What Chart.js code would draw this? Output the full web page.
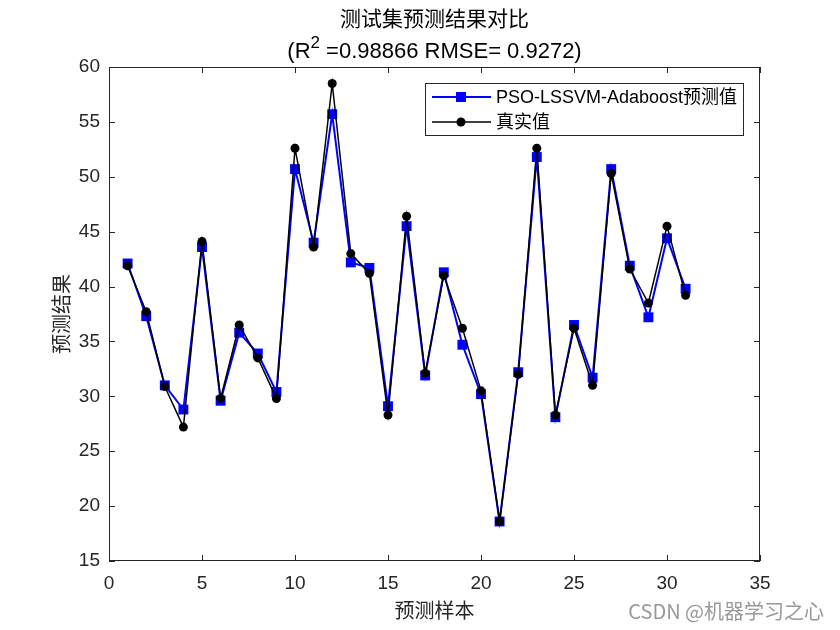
<!DOCTYPE html>
<html>
<head>
<meta charset="utf-8">
<script src="https://cdn.jsdelivr.net/npm/chart.js@4.4.0/dist/chart.umd.min.js"></script>
<style>
  html, body { margin: 0; padding: 0; background: #fff; }
  #wrap { width: 840px; height: 630px; }
</style>
</head>
<body>
<div id="wrap"><canvas id="chart1" width="840" height="630"></canvas></div>
<script>
// sample index (x) and the two series
var sampleIdx = [1, 2, 3, 4, 5, 6, 7, 8, 9, 10, 11, 12, 13, 14, 15, 16, 17, 18, 19, 20,
                 21, 22, 23, 24, 25, 26, 27, 28, 29, 30, 31];
var predVals = [42.1, 37.3, 31.0, 28.8, 43.6, 29.6, 35.8, 33.9, 30.4, 50.7,
                44.0, 55.7, 42.2, 41.7, 29.1, 45.5, 31.9, 41.3, 34.7, 30.2,
                18.6, 32.2, 51.8, 28.1, 36.5, 31.7, 50.7, 41.9, 37.2, 44.4, 39.8];
var trueVals = [41.9, 37.7, 30.9, 27.2, 44.1, 29.8, 36.5, 33.5, 29.8, 52.6,
                43.6, 58.5, 43.0, 41.2, 28.3, 46.4, 32.1, 41.0, 36.2, 30.5,
                18.6, 32.0, 52.6, 28.3, 36.2, 31.0, 50.3, 41.6, 38.5, 45.5, 39.2];
var xTicks = [0, 5, 10, 15, 20, 25, 30, 35];
var yTicks = [15, 20, 25, 30, 35, 40, 45, 50, 55, 60];
var seriesNames = ['PSO-LSSVM-Adaboost预测值', '真实值'];

var axisColor = '#262626';
var fontLatin = '"Liberation Sans", Arial, "Noto Sans CJK SC", sans-serif';
var fontCJK = '"Noto Sans CJK SC", "Liberation Sans", sans-serif';

function toPoints(vals) {
    return vals.map(function(v, i) { return { x: sampleIdx[i], y: v }; });
}

// box, inward ticks, titles and legend drawn the MATLAB way
var matlabFrame = {
    id: 'matlabFrame',
    afterDraw: function(chart) {
        var ctx = chart.ctx;
        var a = chart.chartArea;
        var xs = chart.scales.x, ys = chart.scales.y;
        ctx.save();
        ctx.strokeStyle = axisColor;
        ctx.lineWidth = 1;
        ctx.strokeRect(a.left + 0.5, a.top + 0.5, a.right - a.left - 1, a.bottom - a.top - 1);
        ctx.beginPath();
        xTicks.forEach(function(t) {
            var px = Math.round(xs.getPixelForValue(t)) + 0.5;
            ctx.moveTo(px, a.bottom); ctx.lineTo(px, a.bottom - 6);
            ctx.moveTo(px, a.top); ctx.lineTo(px, a.top + 6);
        });
        yTicks.forEach(function(t) {
            var py = Math.round(ys.getPixelForValue(t)) + 0.5;
            ctx.moveTo(a.left, py); ctx.lineTo(a.left + 6, py);
            ctx.moveTo(a.right, py); ctx.lineTo(a.right - 6, py);
        });
        ctx.stroke();

        // title
        var cx = (a.left + a.right) / 2;
        ctx.fillStyle = '#000';
        ctx.textAlign = 'center';
        ctx.textBaseline = 'middle';
        ctx.font = '21px ' + fontCJK;
        ctx.fillText('测试集预测结果对比', cx, 18);
        ctx.font = '22px ' + fontLatin;
        var p1 = '(R', p2 = '2', p3 = ' =0.98866 RMSE= 0.9272)';
        var w1 = ctx.measureText(p1).width, w3 = ctx.measureText(p3).width;
        ctx.font = '17px ' + fontLatin;
        var w2 = ctx.measureText(p2).width;
        var sx = cx - (w1 + w2 + w3) / 2;
        ctx.textAlign = 'left';
        ctx.font = '22px ' + fontLatin;
        ctx.fillText(p1, sx, 52);
        ctx.font = '17px ' + fontLatin;
        ctx.fillText(p2, sx + w1, 43);
        ctx.font = '22px ' + fontLatin;
        ctx.fillText(p3, sx + w1 + w2, 52);

        // axis titles
        ctx.textAlign = 'center';
        ctx.fillStyle = axisColor;
        ctx.font = '20px ' + fontCJK;
        ctx.fillText('预测样本', cx, 610);
        ctx.save();
        ctx.translate(61, (a.top + a.bottom) / 2);
        ctx.rotate(-Math.PI / 2);
        ctx.fillText('预测结果', 0, 0);
        ctx.restore();

        // legend
        ctx.fillStyle = '#fff';
        ctx.fillRect(425, 83, 318, 52);
        ctx.strokeStyle = axisColor;
        ctx.strokeRect(425.5, 83.5, 318, 52);
        var rows = [
            { y: 97, color: '#0000ff', width: 2, marker: 'rect' },
            { y: 122, color: '#000000', width: 1.5, marker: 'circle' }
        ];
        rows.forEach(function(r, i) {
            ctx.strokeStyle = r.color;
            ctx.lineWidth = r.width;
            ctx.beginPath();
            ctx.moveTo(432, r.y); ctx.lineTo(491, r.y);
            ctx.stroke();
            ctx.fillStyle = r.color;
            if (r.marker === 'rect') {
                ctx.fillRect(461 - 5, r.y - 5, 10, 10);
            } else {
                ctx.beginPath();
                ctx.arc(461, r.y, 4.5, 0, Math.PI * 2);
                ctx.fill();
            }
            ctx.fillStyle = '#000';
            ctx.textAlign = 'left';
            ctx.font = '18px ' + fontLatin;
            ctx.fillText(seriesNames[i], 496, r.y + 1);
        });

        // watermark
        ctx.fillStyle = '#999999';
        ctx.textAlign = 'right';
        ctx.font = '20px ' + fontCJK;
        ctx.fillText('CSDN @机器学习之心', 824, 611);
        ctx.restore();
    }
};

var ctx = document.getElementById('chart1');
var chart1 = new Chart(ctx, {
    type: 'line',
    data: {
        datasets: [{
            label: seriesNames[0],
            data: toPoints(predVals),
            borderColor: '#0000ff',
            backgroundColor: '#0000ff',
            borderWidth: 2,
            pointStyle: 'rect',
            pointRadius: 7,
            pointBorderWidth: 0,
            tension: 0,
            order: 1
        }, {
            label: seriesNames[1],
            data: toPoints(trueVals),
            borderColor: '#000000',
            backgroundColor: '#000000',
            borderWidth: 1.5,
            pointStyle: 'circle',
            pointRadius: 4.5,
            pointBorderWidth: 0,
            tension: 0,
            order: 0
        }]
    },
    options: {
        responsive: false,
        animation: false,
        layout: { padding: { top: 67, right: 80, left: 0, bottom: 0 } },
        plugins: {
            legend: { display: false },
            title: { display: false },
            tooltip: { enabled: false }
        },
        scales: {
            x: {
                type: 'linear',
                min: 0, max: 35,
                afterBuildTicks: function(s) { s.ticks = xTicks.map(function(v) { return { value: v }; }); },
                afterFit: function(s) { s.height = 69; },
                grid: { display: false },
                border: { display: false },
                ticks: { color: axisColor, font: { size: 19, family: fontLatin }, padding: 3, maxRotation: 0 }
            },
            y: {
                min: 15, max: 60,
                afterBuildTicks: function(s) { s.ticks = yTicks.map(function(v) { return { value: v }; }); },
                afterFit: function(s) { s.width = 109; },
                grid: { display: false },
                border: { display: false },
                ticks: { color: axisColor, font: { size: 19, family: fontLatin }, padding: 1 }
            }
        }
    },
    plugins: [matlabFrame]
});
</script>
</body>
</html>
